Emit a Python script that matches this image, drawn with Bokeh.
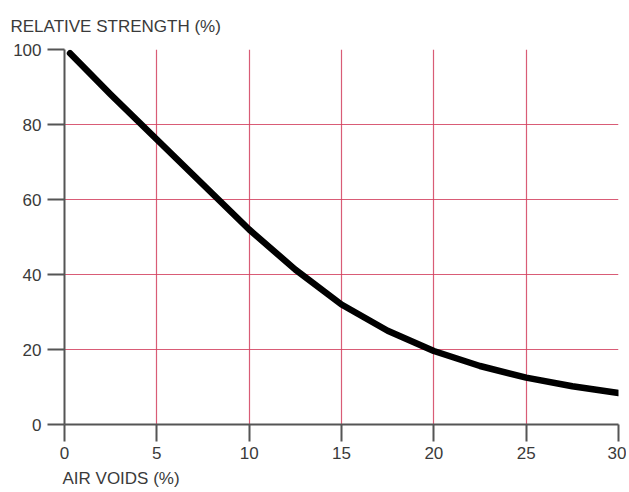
from bokeh.plotting import figure
from bokeh.models import FixedTicker, Title
from bokeh.embed import file_html
from bokeh.resources import INLINE

air_voids = [0.3, 2.5, 5, 7.5, 10, 12.5, 15, 17.5, 20, 22.5, 25, 27.5, 30]
strength = [99, 88, 76, 64, 52, 41.3, 32, 25, 19.6, 15.6, 12.5, 10.2, 8.4]
x_ticks = [0, 5, 10, 15, 20, 25, 30]
y_ticks = [0, 20, 40, 60, 80, 100]

FONT = "'Liberation Sans', Arial, sans-serif"
TXT = "#3a3a3a"

p = figure(frame_width=554, frame_height=375, x_range=(0, 30), y_range=(0, 100),
           output_backend="svg", toolbar_location=None,
           min_border_left=64, min_border_top=49, min_border_right=8, min_border_bottom=64)
p.outline_line_color = None
p.background_fill_color = "white"

for ax in (p.xaxis[0], p.yaxis[0]):
    ax.axis_line_color = "#555555"
    ax.axis_line_width = 2
    ax.major_tick_line_color = "#555555"
    ax.major_tick_line_width = 2
    ax.major_tick_in = 0
    ax.major_tick_out = 17
    ax.minor_tick_line_color = None
    ax.major_label_text_font = FONT
    ax.major_label_text_font_size = "17px"
    ax.major_label_text_color = TXT

p.xaxis.ticker = FixedTicker(ticks=x_ticks)
p.yaxis.ticker = FixedTicker(ticks=y_ticks)
p.yaxis.major_label_standoff = 6
p.xaxis.major_label_standoff = 5

p.xgrid.ticker = FixedTicker(ticks=x_ticks[1:-1])
p.ygrid.ticker = FixedTicker(ticks=y_ticks[1:-1])
for g in (p.xgrid[0], p.ygrid[0]):
    g.grid_line_color = "#d2405e"
    g.grid_line_width = 1.2
    g.grid_line_alpha = 0.85

p.line(air_voids, strength, line_color="black", line_width=6.5, line_cap="round", line_join="round")

t = Title(text="RELATIVE STRENGTH (%)", align="left", offset=-54, standoff=27,
          text_font=FONT, text_font_size="17px", text_font_style="normal", text_color=TXT)
p.add_layout(t, "above")
b = Title(text="AIR VOIDS (%)", align="left", offset=-2,
          text_font=FONT, text_font_size="17px", text_font_style="normal", text_color=TXT)
p.add_layout(b, "below")

open("out.html", "w").write(file_html(p, INLINE))
